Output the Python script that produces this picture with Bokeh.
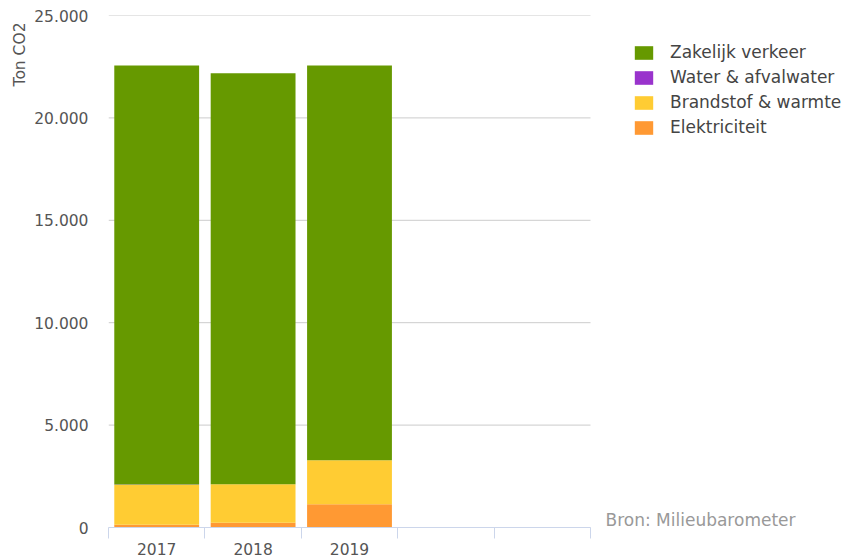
from bokeh.plotting import figure
from bokeh.models import (ColumnDataSource, FixedTicker, Legend, LegendItem, Label, Range1d, Title)
from bokeh.embed import file_html
from bokeh.resources import INLINE

# ---- data ----
years = ["2017", "2018", "2019", "", ""]
series_names = ["Elektriciteit", "Brandstof & warmte", "Water & afvalwater", "Zakelijk verkeer"]
elektriciteit = [130, 230, 1140]
brandstof = [1960, 1880, 2140]
water = [5, 5, 5]
zakelijk = [20460, 20060, 19270]
colors = ["#ff9933", "#ffcc33", "#9933cc", "#669900"]
y_ticks = [0, 5000, 10000, 15000, 20000, 25000]
y_tick_labels = ["0", "5.000", "10.000", "15.000", "20.000", "25.000"]

FONT = "DejaVu Sans"

W, H = 842, 557
LEFT, TOP, BOTTOM = 108, 15, 30
PLOT_RIGHT = 590  # right end of the category area
n = len(years)
x_end = n * (W - LEFT) / (PLOT_RIGHT - LEFT)

xpos = [i + 0.5 for i in range(len(elektriciteit))]
src = ColumnDataSource(dict(x=xpos, e=elektriciteit, b=brandstof, w=water, z=zakelijk))

p = figure(width=W, height=H, output_backend="svg", toolbar_location=None,
           x_range=Range1d(0, x_end), y_range=Range1d(0, 25000),
           min_border_left=LEFT, min_border_right=0, min_border_top=TOP, min_border_bottom=BOTTOM)
p.outline_line_color = None
p.background_fill_color = "white"
p.border_fill_color = "white"
p.xgrid.grid_line_color = None
p.ygrid.grid_line_color = None

# grid lines only across the category area
p.segment(x0=[0] * len(y_ticks), x1=[n] * len(y_ticks), y0=y_ticks, y1=y_ticks,
          line_color="#cccccc", line_width=1)

renderers = p.vbar_stack(["e", "b", "w", "z"], x="x", width=0.88, source=src,
                         color=colors, line_color=None)

# x axis
xa = p.xaxis[0]
xa.bounds = (0, n)
xa.ticker = FixedTicker(ticks=[i + 0.5 for i in range(n)], minor_ticks=list(range(n + 1)))
xa.major_label_overrides = {i + 0.5: y for i, y in enumerate(years)}
xa.axis_line_color = "#ccd6eb"
xa.major_tick_line_color = None
xa.major_tick_out = 0
xa.major_tick_in = 0
xa.minor_tick_line_color = "#ccd6eb"
xa.minor_tick_out = 11
xa.minor_tick_in = 0
xa.major_label_standoff = 4
xa.major_label_text_font = FONT
xa.major_label_text_font_size = "15.5px"
xa.major_label_text_color = "#555555"

# y axis
ya = p.yaxis[0]
ya.ticker = FixedTicker(ticks=y_ticks)
ya.major_label_overrides = {t: l for t, l in zip(y_ticks, y_tick_labels)}
ya.axis_line_color = None
ya.major_tick_line_color = None
ya.minor_tick_line_color = None
ya.major_tick_out = 0
ya.major_tick_in = 0
ya.major_label_standoff = 20
ya.major_label_text_font = FONT
ya.major_label_text_font_size = "15.5px"
ya.major_label_text_color = "#555555"

p.add_layout(Title(text="Ton CO2", align="right", text_font=FONT, text_font_size="15.5px",
                   text_color="#555555", text_font_style="normal", standoff=6, offset=7), "left")

# legend (reverse order)
items = [LegendItem(label=series_names[i], renderers=[renderers[i]]) for i in [3, 2, 1, 0]]
legend = Legend(items=items, location=(524, 390), orientation="vertical",
                glyph_width=23, glyph_height=17, label_height=17, spacing=5,
                padding=0, margin=0, label_standoff=15,
                label_text_font=FONT, label_text_font_size="17px", label_text_color="#444444",
                border_line_color=None, background_fill_alpha=0)
p.add_layout(legend, "center")

p.add_layout(Label(x=497, y=8, x_units="screen", y_units="screen", text="Bron: Milieubarometer",
                   text_font=FONT, text_font_size="17px", text_color="#999999",
                   text_baseline="alphabetic"))

open("out.html", "w").write(file_html(p, INLINE))
